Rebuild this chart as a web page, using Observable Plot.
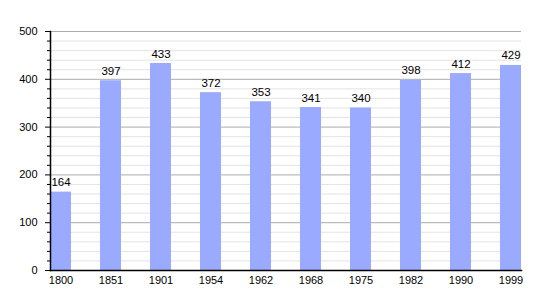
<!DOCTYPE html>
<html>
<head>
<meta charset="utf-8">
<script src="https://cdn.jsdelivr.net/npm/d3@7"></script>
<script src="https://cdn.jsdelivr.net/npm/@observablehq/plot@0.6"></script>
<style>
  html, body { margin: 0; padding: 0; background: #fff; }
</style>
</head>
<body>
<div id="chart"></div>
<script>
const years = ["1800","1851","1901","1954","1962","1968","1975","1982","1990","1999"];
const population = [164,397,433,372,353,341,340,398,412,429];
const majorTicks = [0,100,200,300,400,500];
const minorTicks = d3.range(0, 501, 20).filter(v => v % 100 !== 0);

const data = years.map((y, i) => ({year: y, pop: population[i]}));

const chart = Plot.plot({
  width: 550,
  height: 300,
  marginLeft: 50,
  marginRight: 29,
  marginTop: 31,
  marginBottom: 30,
  style: {fontFamily: "'Liberation Sans', Arial, sans-serif", fontSize: "11px", color: "#000", background: "#fff"},
  x: {domain: years, paddingInner: 0.58, paddingOuter: 0, label: null},
  y: {domain: [0, 500], label: null},
  marks: [
    Plot.gridY(minorTicks, {stroke: "#e3e3e3", strokeOpacity: 1}),
    Plot.gridY(majorTicks.filter(v => v > 0), {stroke: "#ababab", strokeOpacity: 1}),
    Plot.barY(data, {x: "year", y: "pop", fill: "#99aaff"}),
    Plot.text(data, {x: "year", y: "pop", text: d => String(d.pop), dy: -6, lineAnchor: "bottom", fill: "#000", fontSize: 11.5}),
    Plot.axisY(minorTicks, {tickSize: 3, text: null, stroke: "#000"}),
    Plot.axisY(majorTicks, {tickSize: 5, tickPadding: 8, stroke: "#000", fill: "#000", fontSize: 11}),
    Plot.axisX({tickSize: 0, tickPadding: 6, fill: "#000", fontSize: 11}),
    Plot.frame({anchor: "left", stroke: "#000", strokeWidth: 1.5}),
    Plot.frame({anchor: "bottom", stroke: "#000", strokeWidth: 1.5})
  ]
});
document.getElementById("chart").appendChild(chart);
</script>
</body>
</html>
